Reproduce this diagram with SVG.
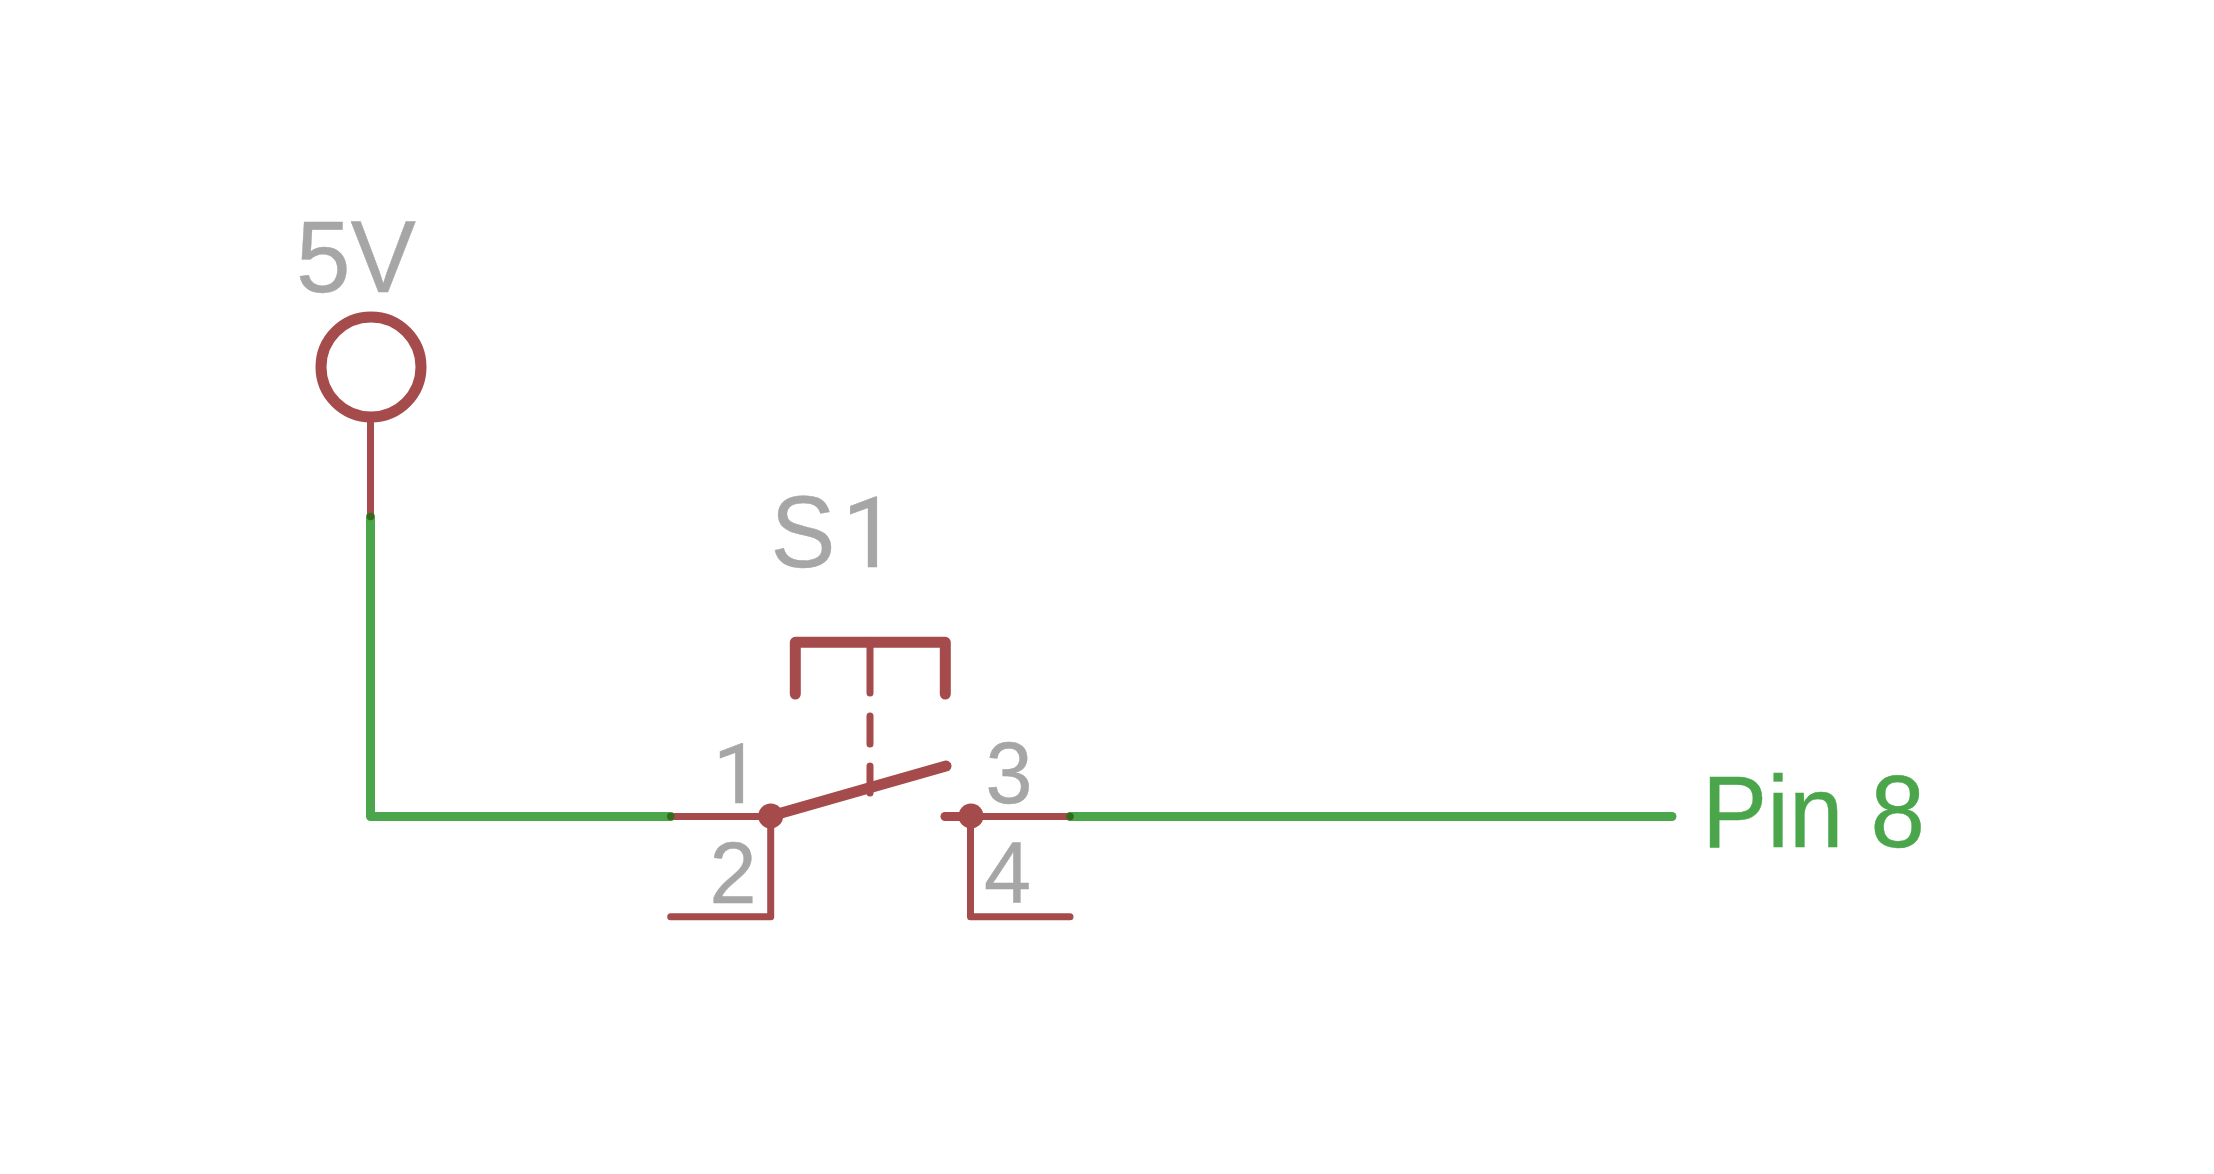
<svg xmlns="http://www.w3.org/2000/svg" width="2214" height="1174" viewBox="0 0 2214 1174">
<style>
.s{fill:none;stroke:#a54b4b;stroke-linecap:round;stroke-linejoin:round}
.t{stroke-width:7}
.k{stroke-width:11}
.w{fill:none;stroke:#4ba64b;stroke-width:9;stroke-linecap:round;stroke-linejoin:round}
.d{fill:#316c1a}
.b{fill:#a54b4b}
text{font-family:"Liberation Sans",Arial,sans-serif;fill:#a6a6a6;stroke:#a6a6a6;stroke-width:.4}
.l{font-size:102px}
.p{font-size:87px}
.r{font-family:Roboto,"Liberation Sans",sans-serif}
</style>
<rect width="2214" height="1174" fill="#fff"/>
<g id="connectors">
<path class="w" d="M370.5 516.5V816.5H670.7"/>
<path class="w" d="M1070 816.5H1672"/>
</g>
<g id="power-5V">
<circle class="s k" cx="371" cy="367" r="50"/>
<path class="s t" d="M370.5 417V516.5"/>
<circle class="d" cx="370.5" cy="516.5" r="3.7"/>
<text class="l" x="296" y="291.7" textLength="120" lengthAdjust="spacingAndGlyphs">5V</text>
</g>
<g id="switch-S1">
<path class="s k" d="M795.3 694V642.3H945.3V694"/>
<path class="s t" d="M870 642.3V693M870 716V744M870 766V793"/>
<path class="s k" d="M770.7 816L946 766"/>
<path class="s t" d="M670.7 816.5H770.7V916.7H670.7"/>
<path class="s t" d="M1070 816.5H970.5V916.7H1070"/>
<path class="s" stroke-width="9" d="M945 816.5H971"/>
<circle class="b" cx="770.7" cy="816" r="12.5"/>
<circle class="b" cx="971" cy="816" r="12.5"/>
<circle class="d" cx="670.7" cy="816.5" r="3.7"/>
<circle class="d" cx="1070" cy="816.5" r="3.7"/>
<text class="l" y="566.7"><tspan x="770.5" textLength="65" lengthAdjust="spacingAndGlyphs">S</tspan><tspan class="r" x="842" style="font-size:98px">1</tspan></text>
<text class="p r" x="713" y="802.7" style="font-size:84px">1</text>
<text class="p" x="709.5" y="902.7" textLength="47" lengthAdjust="spacingAndGlyphs">2</text>
<text class="p" x="985.5" y="802.7" textLength="47" lengthAdjust="spacingAndGlyphs">3</text>
<text class="p" x="984" y="902.7" textLength="47" lengthAdjust="spacingAndGlyphs">4</text>
</g>
<g id="label-pin8">
<text class="l" x="1702" y="846.7" textLength="223" lengthAdjust="spacingAndGlyphs" style="fill:#4ba64b;stroke:#4ba64b">Pin 8</text>
</g>
</svg>
